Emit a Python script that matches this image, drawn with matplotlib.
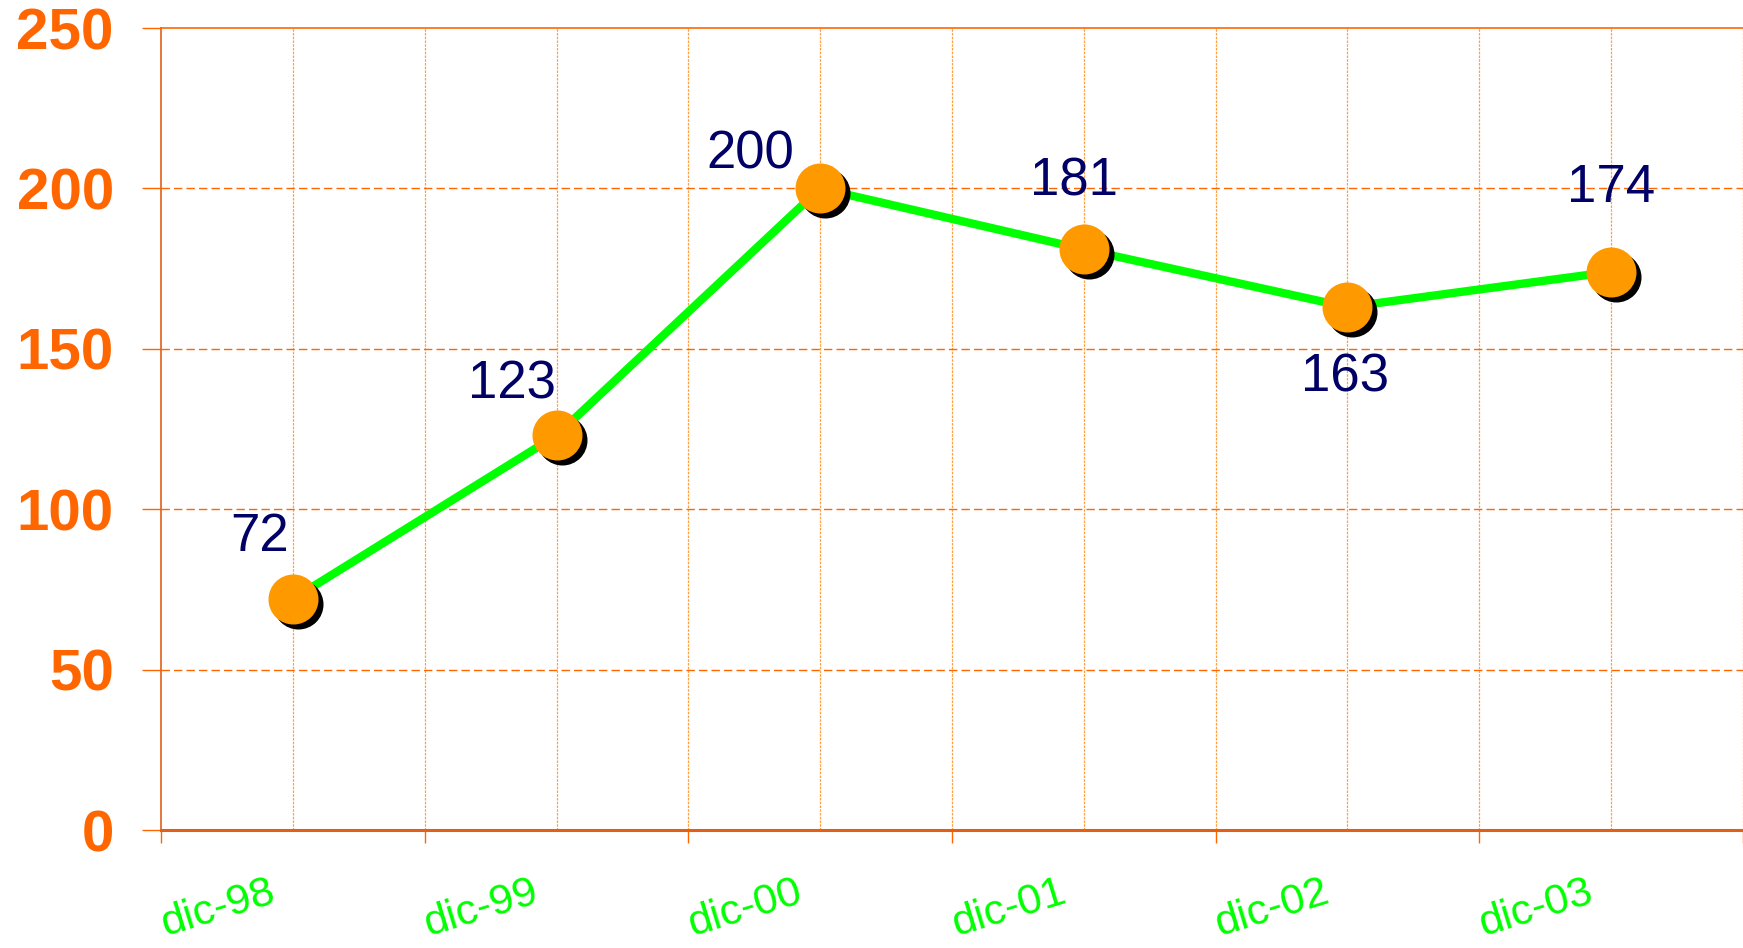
import matplotlib
matplotlib.use("Agg")
import matplotlib.pyplot as plt
from matplotlib.transforms import offset_copy
import numpy as np

categories = ["dic-98", "dic-99", "dic-00", "dic-01", "dic-02", "dic-03"]
values = [72, 123, 200, 181, 163, 174]
y_ticks = [0, 50, 100, 150, 200, 250]
# label offsets in pixels (dx, dy) relative to each point
label_offsets = [(-33, 62), (-44, 51), (-70, 34), (-10, 68), (-2, -70), (0, 84)]

plt.rcParams['font.family'] = ['Liberation Sans', 'DejaVu Sans']

W, H = 1743, 948
fig = plt.figure(figsize=(W / 100, H / 100), dpi=100)
ax = fig.add_axes([161 / W, 1 - 830 / H, 1 - 161 / W, (830 - 28) / H])

x = np.arange(len(categories))
ax.set_xlim(-0.5, len(categories) - 0.5)
ax.set_ylim(0, 250)

# vertical grid lines at category boundaries and centers
for b in np.arange(0.0, len(categories), 0.5):
    ax.axvline(b, color="#FFA040", lw=0.9, ls=(0, (2, 1)), zorder=1)
# horizontal dashed grid
for t in y_ticks[1:-1]:
    ax.axhline(t, color="#FF6600", lw=1.0, ls=(0, (6, 3)), zorder=1)

# line
ax.plot(x, values, color="#00FF00", lw=6, zorder=3, solid_capstyle="round")
# marker shadows
shadow_tr = offset_copy(ax.transData, fig=fig, x=5, y=-5, units="dots")
ax.plot(x, values, ls="none", marker="o", ms=35, color="black", mec="black",
        transform=shadow_tr, zorder=4)
ax.plot(x, values, ls="none", marker="o", ms=35, color="#FF9900", mec="#FF9900",
        zorder=5)

# data labels
for xi, v, (dx, dy) in zip(x, values, label_offsets):
    tr = offset_copy(ax.transData, fig=fig, x=dx, y=dy, units="dots")
    ax.text(xi, v, str(v), transform=tr, ha="center", va="center",
            fontsize=38, color="#000066", zorder=6)

# spines
for s in ["left", "bottom"]:
    ax.spines[s].set_color("#E0601A")
ax.spines["left"].set_linewidth(1.2)
ax.spines["bottom"].set_linewidth(2.2)
ax.spines["top"].set_color("#FF6600")
ax.spines["top"].set_linewidth(1.2)
ax.spines["right"].set_visible(False)

# y ticks
ax.set_yticks(y_ticks)
ax.set_yticklabels([str(t) for t in y_ticks], fontsize=42, fontweight="bold",
                   color="#FF6600")
ax.tick_params(axis="y", length=14, width=1, color="#FF6600", pad=20)

# x ticks at boundaries, labels placed manually
ax.set_xticks(np.arange(-0.5, len(categories), 1.0))
ax.set_xticklabels([])
ax.tick_params(axis="x", length=9, width=1, color="#FF6600")
for xi, lab in zip(x, categories):
    tr = offset_copy(ax.get_xaxis_transform(), fig=fig, x=4, y=-106, units="dots")
    ax.text(xi - 0.5, 0, lab, transform=tr, ha="left", va="baseline",
            rotation=17, rotation_mode="anchor", fontsize=31, color="#00FF00",
            clip_on=False)

fig.savefig("out.png", dpi=100)
